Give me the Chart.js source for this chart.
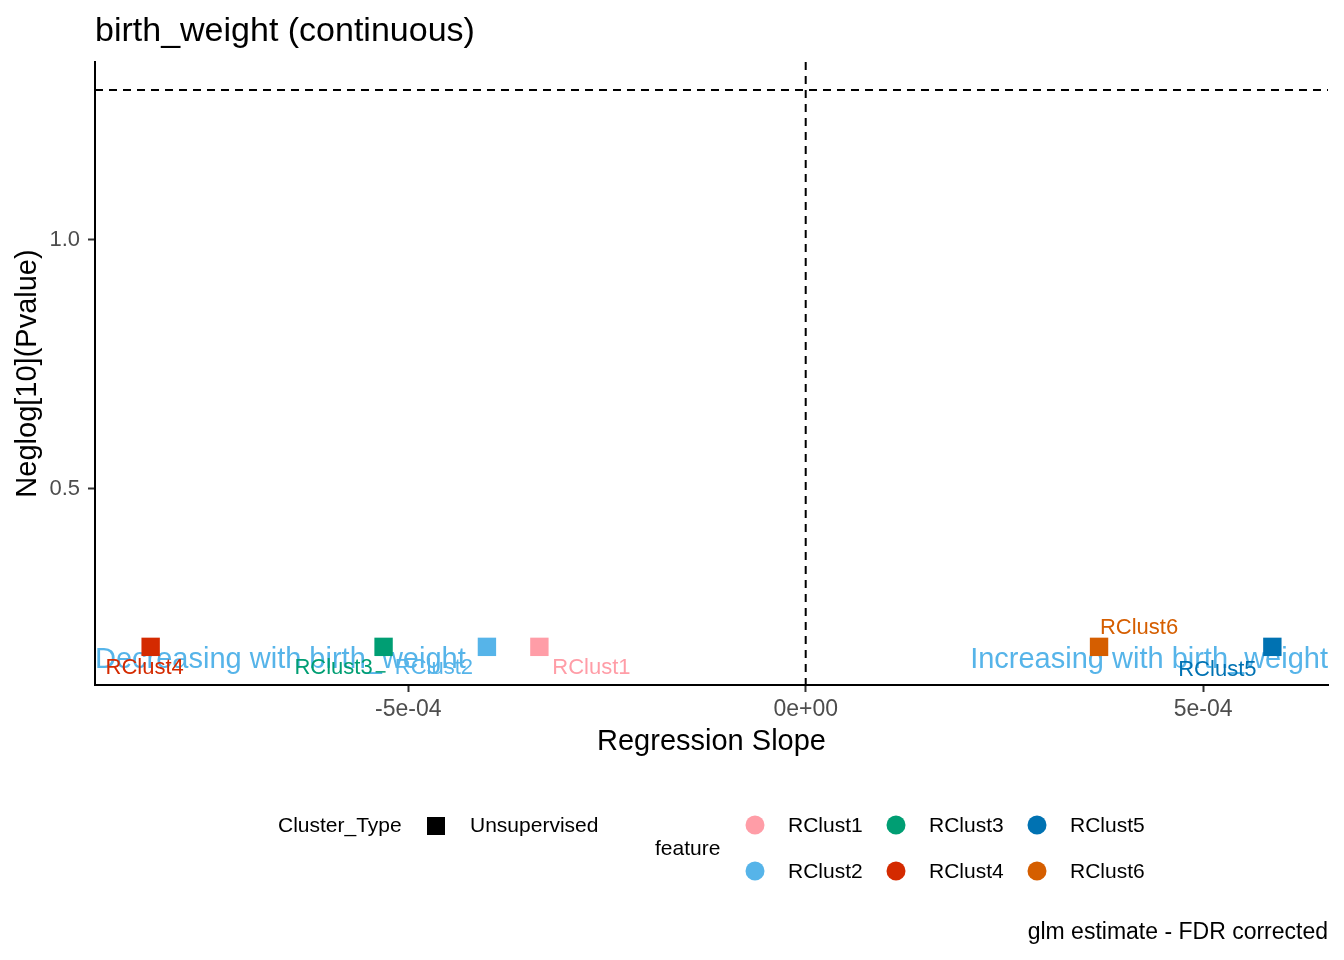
<!DOCTYPE html>
<html>
<head>
<meta charset="utf-8">
<script src="https://cdn.jsdelivr.net/npm/chart.js@4.4.1/dist/chart.umd.min.js"></script>
<style>
  html, body { margin: 0; padding: 0; background: #ffffff; }
  #wrap { width: 1344px; height: 960px; }
</style>
</head>
<body>
<div id="wrap"><canvas id="slope_scatter" width="1344" height="960"></canvas></div>
<script>
// data
const clusters = ['RClust1', 'RClust2', 'RClust3', 'RClust4', 'RClust5', 'RClust6'];
const slopes = [-3.35e-4, -4.01e-4, -5.31e-4, -8.24e-4, 5.87e-4, 3.69e-4];
const neglogP = [0.183, 0.183, 0.183, 0.183, 0.183, 0.183];
const clusterTypes = ['Unsupervised'];
const xTicks = [-5e-4, 0, 5e-4];
const yTicks = [0.5, 1.0];
const sigThreshold = -Math.log10(0.05);

const clusterColors = ['#FF9DA7', '#56B4E9', '#009E73', '#D42A00', '#0072B2', '#D55E00'];
// label placement relative to the point (pixels), like ggrepel put them
const labelShift = [[52, 21], [-53, 21], [-50, 21], [-6, 21], [-55, 23], [40, -19]];

const FONT = '"Liberation Sans", Arial, sans-serif';

function sciLabel(v) {
    return Number(v).toExponential(0).replace(/e([+-])(\d)$/, 'e$10$2');
}

const decor = {
    id: 'decor',
    beforeDatasetsDraw(chart) {
        const ctx = chart.ctx;
        const a = chart.chartArea;
        const x = chart.scales.x, y = chart.scales.y;
        ctx.save();
        ctx.strokeStyle = '#000000';
        ctx.lineWidth = 2;
        ctx.setLineDash([8, 6]);
        const yy = y.getPixelForValue(sigThreshold);
        ctx.beginPath(); ctx.moveTo(a.left, yy); ctx.lineTo(a.right, yy); ctx.stroke();
        const xx = x.getPixelForValue(0);
        ctx.beginPath(); ctx.moveTo(xx, a.top); ctx.lineTo(xx, a.bottom); ctx.stroke();
        ctx.setLineDash([]);

        ctx.font = '29px ' + FONT;
        ctx.fillStyle = '#56B4E9';
        ctx.textBaseline = 'middle';
        ctx.textAlign = 'left';
        ctx.fillText('Decreasing with birth_weight', a.left, 660);
        ctx.textAlign = 'right';
        ctx.fillText('Increasing with birth_weight', a.right, 660);
        ctx.restore();
    },
    afterDatasetsDraw(chart) {
        const ctx = chart.ctx;
        const meta = chart.getDatasetMeta(0);
        ctx.save();
        ctx.font = '22px ' + FONT;
        ctx.textAlign = 'center';
        ctx.textBaseline = 'middle';
        meta.data.forEach((pt, i) => {
            const lx = pt.x + labelShift[i][0];
            const ly = pt.y + labelShift[i][1];
            ctx.fillStyle = clusterColors[i];
            ctx.fillText(clusters[i], lx, ly);
        });
        // short repel segment next to RClust3
        const p3 = meta.data[2];
        ctx.strokeStyle = clusterColors[2];
        ctx.lineWidth = 1.5;
        ctx.beginPath();
        ctx.moveTo(p3.x - 8, p3.y + 25);
        ctx.lineTo(p3.x + 2, p3.y + 25);
        ctx.stroke();
        ctx.restore();
    },
    afterDraw(chart) {
        const ctx = chart.ctx;
        const a = chart.chartArea;
        ctx.save();
        ctx.fillStyle = '#000000';
        ctx.textBaseline = 'alphabetic';

        ctx.font = '34px ' + FONT;
        ctx.textAlign = 'left';
        ctx.fillText('birth_weight (continuous)', a.left, 41);

        ctx.font = '29px ' + FONT;
        ctx.textAlign = 'center';
        ctx.textBaseline = 'middle';
        ctx.fillText('Regression Slope', (a.left + a.right) / 2, 742);

        ctx.save();
        ctx.translate(28, (a.top + a.bottom) / 2);
        ctx.rotate(-Math.PI / 2);
        ctx.fillText('Neglog[10](Pvalue)', 0, 0);
        ctx.restore();

        // legends
        ctx.font = '21px ' + FONT;
        ctx.textAlign = 'left';
        ctx.fillText('Cluster_Type', 278, 826);
        ctx.fillRect(427, 817, 18, 18);
        ctx.fillText(clusterTypes[0], 470, 826);
        ctx.fillText('feature', 655, 849);

        const colX = [755, 896, 1037];
        const rowY = [825, 871];
        clusters.forEach((name, i) => {
            const col = Math.floor(i / 2), row = i % 2;
            ctx.fillStyle = clusterColors[i];
            ctx.beginPath();
            ctx.arc(colX[col], rowY[row], 9.5, 0, Math.PI * 2);
            ctx.fill();
            ctx.fillStyle = '#000000';
            ctx.fillText(name, colX[col] + 33, rowY[row] + 1);
        });

        ctx.textAlign = 'right';
        ctx.font = '23px ' + FONT;
        ctx.fillText('glm estimate - FDR corrected', a.right, 933);
        ctx.restore();
    }
};

const slope_scatter = document.getElementById('slope_scatter').getContext('2d');
new Chart(slope_scatter, {
    type: 'scatter',
    data: {
        datasets: [{
            data: slopes.map((s, i) => ({ x: s, y: neglogP[i] })),
            backgroundColor: clusterColors,
            borderWidth: 0,
            pointStyle: 'rect',
            pointRadius: 13,
            pointHoverRadius: 13
        }]
    },
    options: {
        responsive: false,
        animation: false,
        devicePixelRatio: 1,
        layout: {
            padding: { top: 62, right: 16, left: 0, bottom: 185 }
        },
        plugins: {
            legend: { display: false },
            title: { display: false },
            tooltip: { enabled: false }
        },
        scales: {
            x: {
                type: 'linear',
                min: -8.94e-4,
                max: 6.57e-4,
                afterBuildTicks: (scale) => { scale.ticks = xTicks.map(v => ({ value: v })); },
                afterFit: (scale) => { scale.height = 90; },
                ticks: {
                    callback: (v) => sciLabel(v),
                    color: '#4D4D4D',
                    font: { family: FONT, size: 23 },
                    padding: 4,
                    maxRotation: 0,
                    autoSkip: false
                },
                grid: {
                    drawOnChartArea: false,
                    drawTicks: true,
                    tickLength: 7,
                    tickWidth: 2,
                    tickColor: '#333333'
                },
                border: { display: true, color: '#000000', width: 2 }
            },
            y: {
                type: 'linear',
                min: 0.1064,
                max: 1.3574,
                afterBuildTicks: (scale) => { scale.ticks = yTicks.map(v => ({ value: v })); },
                afterFit: (scale) => { scale.width = 95; },
                ticks: {
                    callback: (v) => Number(v).toFixed(1),
                    color: '#4D4D4D',
                    font: { family: FONT, size: 22 },
                    padding: 8,
                    autoSkip: false
                },
                grid: {
                    drawOnChartArea: false,
                    drawTicks: true,
                    tickLength: 7,
                    tickWidth: 2,
                    tickColor: '#333333'
                },
                border: { display: true, color: '#000000', width: 2 }
            }
        }
    },
    plugins: [decor]
});
</script>
</body>
</html>
